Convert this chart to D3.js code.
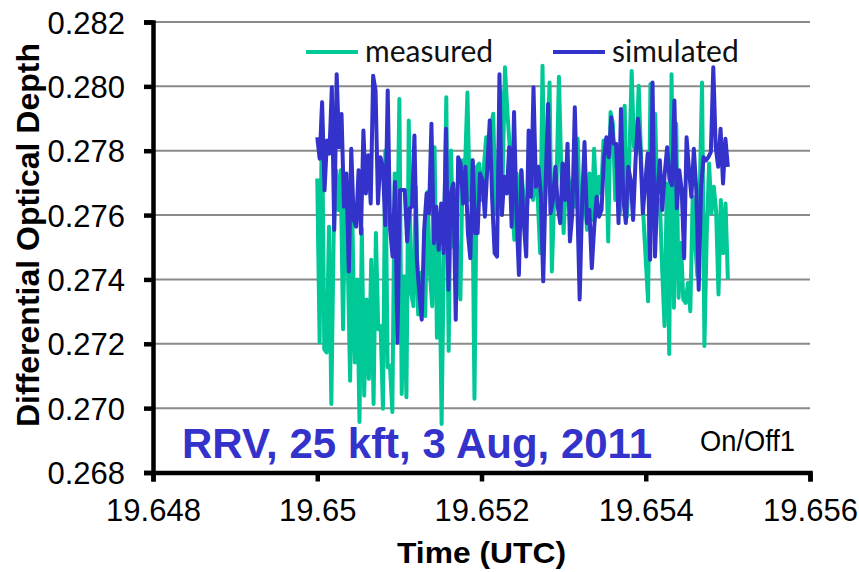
<!DOCTYPE html>
<html lang="en">
<head>
    <meta charset="UTF-8">
    <title>Differential Optical Depth</title>
    <script src="https://d3js.org/d3.v7.min.js"></script>
    <style>
        body {
            margin: 0;
            padding: 0;
            background: #ffffff;
        }
        .tick-y { font-family: "Liberation Sans", Arial, sans-serif; font-size: 31px; fill: #000; }
        .tick-x { font-family: "Liberation Sans", Arial, sans-serif; font-size: 31px; fill: #000; }
        .legend-text { font-family: Lato, "Open Sans", sans-serif; font-size: 30px; fill: #111; }
    </style>
</head>
<body>
    <svg id="chart"></svg>

    <script>
        // 数据：时间范围（UTC 小时）
        const timeStart = 19.65;
        const timeEnd = 19.655;

        // 实测值
        const measured = [
            0.27714, 0.27204, 0.2793, 0.27183, 0.27173, 0.27564, 0.27013, 0.27544, 0.27739, 0.27616,
            0.27739, 0.27245, 0.27719, 0.27461, 0.27085, 0.27575, 0.27142, 0.274, 0.26957, 0.27559,
            0.27039, 0.27338, 0.27091, 0.27461, 0.27013, 0.27544, 0.27245, 0.27255, 0.26998, 0.27801,
            0.27127, 0.27132, 0.26988, 0.27729, 0.27461, 0.27961, 0.27044, 0.2741, 0.27034, 0.27894,
            0.27358,
            0.27317, 0.27688, 0.27291, 0.2742, 0.27358, 0.27286, 0.27672, 0.2742, 0.27317, 0.27811,
            0.27219, 0.27523, 0.26951, 0.27502, 0.27966, 0.27178, 0.27801, 0.27502, 0.27678, 0.2742,
            0.27338, 0.2777, 0.2775, 0.27981, 0.27647, 0.2777, 0.27029, 0.2775, 0.2776, 0.27647,
            0.2775, 0.27842, 0.27832, 0.27873, 0.27915, 0.27606, 0.27698, 0.27992, 0.27709, 0.28059,
            0.27925, 0.27811,
            0.27636, 0.27523, 0.27729, 0.27595, 0.27739, 0.27647, 0.27575, 0.27688, 0.27688, 0.27647,
            0.27729, 0.27647, 0.27482, 0.28064, 0.27626, 0.2777, 0.28012, 0.27425, 0.27667, 0.27709,
            0.2803, 0.27739, 0.27544, 0.27709, 0.27719, 0.27647, 0.27709, 0.27626, 0.27837, 0.27564,
            0.27606, 0.27657, 0.27554, 0.27729, 0.27585, 0.27806, 0.27611, 0.27719, 0.27667, 0.27832,
            0.27822, 0.27518, 0.2792, 0.27884,
            0.27647, 0.27647, 0.27606, 0.27801, 0.2794, 0.27595, 0.2777, 0.28048, 0.27811, 0.27791,
            0.28002, 0.2778, 0.27595, 0.27461, 0.27332, 0.28007, 0.2777, 0.27915, 0.27616, 0.27647,
            0.2743, 0.27255, 0.27698, 0.27168, 0.28038, 0.27312, 0.27884, 0.27343, 0.27513, 0.27338,
            0.27327, 0.27389, 0.27301, 0.27657, 0.27523, 0.2741, 0.27667, 0.28012, 0.27193, 0.27544,
            0.2776, 0.27606, 0.27688, 0.27611, 0.27353, 0.27647, 0.27482, 0.27636, 0.274
        ];

        // 模拟值
        const simulated = [
            0.27842, 0.27775, 0.27951, 0.27677, 0.27832, 0.27791, 0.27997, 0.27554, 0.28038, 0.27811,
            0.27914, 0.27626, 0.27729, 0.27425, 0.27806, 0.27585, 0.27564, 0.27739, 0.27543, 0.27863,
            0.27667, 0.27786, 0.27636, 0.28033, 0.27987, 0.27636, 0.2778, 0.2775, 0.27569, 0.27987,
            0.27554, 0.27471, 0.27703, 0.27203, 0.27677,
            0.27678, 0.27678, 0.27518, 0.27621, 0.27626, 0.27847, 0.27461, 0.27358, 0.27275, 0.27554,
            0.27667, 0.27606, 0.27884, 0.27513, 0.27626, 0.27492, 0.27636, 0.27482, 0.27868, 0.27368,
            0.27667, 0.27698, 0.27275, 0.2778, 0.2776, 0.27636, 0.2775, 0.27544, 0.27466, 0.2777,
            0.27544, 0.27544, 0.27729, 0.27709, 0.27595, 0.2775, 0.27894, 0.27647, 0.27482, 0.27471,
            0.28038, 0.276, 0.27719, 0.27667,
            0.27811, 0.27564, 0.2792, 0.27606, 0.27414, 0.27739, 0.27575, 0.27471, 0.27863, 0.27657,
            0.27997, 0.27688, 0.2775, 0.27667, 0.27394, 0.27698, 0.27945, 0.27606, 0.27647, 0.2775,
            0.27626, 0.27575, 0.2776, 0.27647, 0.27822, 0.27518, 0.27606, 0.27935, 0.27647, 0.27338,
            0.27636, 0.27827, 0.27575, 0.27616, 0.27435, 0.27564, 0.27657, 0.27595, 0.27616, 0.2778,
            0.27842, 0.2778, 0.27904, 0.27822, 0.27822, 0.27575,
            0.2793, 0.27647, 0.27575, 0.2775, 0.27709, 0.27585, 0.2777, 0.27899, 0.27801, 0.27606,
            0.27698, 0.27791, 0.27461, 0.28012, 0.27471, 0.27672, 0.2777, 0.27616, 0.27729, 0.27811,
            0.27709, 0.27693, 0.27956, 0.27621, 0.27739, 0.27678, 0.27466, 0.27842, 0.27739, 0.27657,
            0.27806, 0.27678, 0.27368, 0.27688, 0.2778, 0.2777, 0.2778, 0.27796, 0.28059, 0.27811,
            0.2775, 0.27868, 0.27698, 0.27837, 0.2775
        ];

        // 刻度
        const xTicks = [19.648, 19.65, 19.652, 19.654, 19.656];
        const xTickLabels = ["19.648", "19.65", "19.652", "19.654", "19.656"];
        const yTicks = [0.268, 0.270, 0.272, 0.274, 0.276, 0.278, 0.280, 0.282];

        const seriesNames = ["measured", "simulated"];
        const seriesColors = ["#00c896", "#3333cc"];

        // 图表尺寸
        const W = 859, H = 572;
        const plot = { left: 153, right: 810, top: 22, bottom: 472.5 };

        const svg = d3.select("#chart")
            .attr("width", W)
            .attr("height", H);

        const xScale = d3.scaleLinear().domain([19.648, 19.656]).range([plot.left, plot.right]);
        const yScale = d3.scaleLinear().domain([0.268, 0.282]).range([plot.bottom, plot.top]);

        // 网格线
        svg.append("g")
            .selectAll("line")
            .data(yTicks.slice(1))
            .join("line")
            .attr("x1", plot.left)
            .attr("x2", plot.right)
            .attr("y1", d => yScale(d))
            .attr("y2", d => yScale(d))
            .attr("stroke", "#8a8a8a")
            .attr("stroke-width", 2);

        // 把采样序号换成时间
        const toPoints = arr => arr.map((v, i) => [timeStart + i * (timeEnd - timeStart) / (arr.length - 1), v]);

        const line = d3.line()
            .x(d => xScale(d[0]))
            .y(d => yScale(d[1]));

        [measured, simulated].forEach((arr, k) => {
            svg.append("path")
                .datum(toPoints(arr))
                .attr("fill", "none")
                .attr("stroke", seriesColors[k])
                .attr("stroke-width", 4)
                .attr("stroke-linejoin", "round")
                .attr("d", line);
        });

        // y 轴
        const yAxis = svg.append("g")
            .attr("transform", `translate(${plot.left},0)`)
            .call(d3.axisLeft(yScale).tickValues(yTicks).tickFormat(d3.format(".3f")).tickSize(9).tickPadding(19));
        yAxis.select(".domain").attr("stroke", "#000").attr("stroke-width", 4.5);
        yAxis.selectAll(".tick line").attr("stroke", "#000").attr("stroke-width", 4.5);
        yAxis.selectAll(".tick text").attr("class", "tick-y").attr("font-family", null).attr("font-size", null).attr("dy", "0.36em");

        // x 轴
        const xAxis = svg.append("g")
            .attr("transform", `translate(0,${plot.bottom})`)
            .call(d3.axisBottom(xScale).tickValues(xTicks).tickFormat((d, i) => xTickLabels[i]).tickSize(9).tickPadding(17));
        xAxis.select(".domain").attr("stroke", "#000").attr("stroke-width", 4.5);
        xAxis.selectAll(".tick line").attr("stroke", "#000").attr("stroke-width", 4.5);
        xAxis.selectAll(".tick text").attr("class", "tick-x").attr("font-family", null).attr("font-size", null);

        // 轴标题
        svg.append("text")
            .attr("transform", "translate(39,235) rotate(-90)")
            .attr("text-anchor", "middle")
            .style("font-family", "'Liberation Sans', Arial, sans-serif")
            .style("font-weight", "bold")
            .style("font-size", "32px")
            .text("Differential Optical Depth");

        svg.append("text")
            .attr("x", xScale(19.652))
            .attr("y", 563)
            .attr("text-anchor", "middle")
            .style("font-family", "'Liberation Sans', Arial, sans-serif")
            .style("font-weight", "bold")
            .style("font-size", "30px")
            .attr("textLength", 169)
            .attr("lengthAdjust", "spacingAndGlyphs")
            .text("Time (UTC)");

        // 图例
        const legendX = [306, 553];
        const legend = svg.append("g");
        seriesNames.forEach((name, k) => {
            legend.append("line")
                .attr("x1", legendX[k]).attr("x2", legendX[k] + 52)
                .attr("y1", 52).attr("y2", 52)
                .attr("stroke", seriesColors[k])
                .attr("stroke-width", 4);
            legend.append("text")
                .attr("class", "legend-text")
                .attr("x", legendX[k] + 59)
                .attr("y", 62)
                .text(name);
        });

        // 注释
        svg.append("text")
            .attr("x", 182)
            .attr("y", 458)
            .style("font-family", "'Liberation Sans', Arial, sans-serif")
            .style("font-weight", "bold")
            .style("font-size", "42px")
            .style("fill", "#3333cc")
            .attr("textLength", 470)
            .attr("lengthAdjust", "spacingAndGlyphs")
            .text("RRV, 25 kft, 3 Aug, 2011");

        svg.append("text")
            .attr("x", 700)
            .attr("y", 451)
            .style("font-family", "'Liberation Sans', Arial, sans-serif")
            .style("font-size", "29px")
            .attr("textLength", 95)
            .attr("lengthAdjust", "spacingAndGlyphs")
            .text("On/Off1");
    </script>
</body>
</html>
